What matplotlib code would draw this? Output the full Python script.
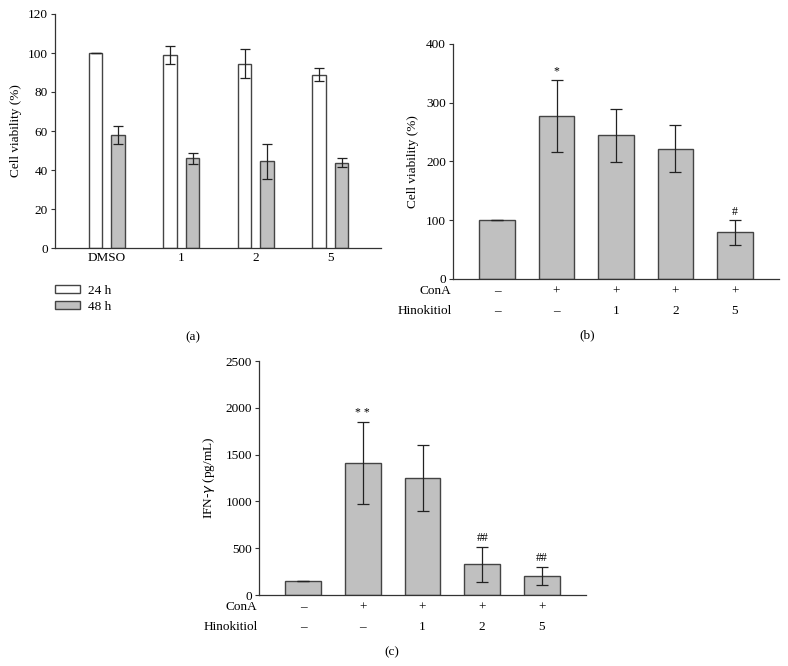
import numpy as np
import matplotlib
matplotlib.use('Agg')
import matplotlib.pyplot as plt
from matplotlib.patches import Patch

plt.rcParams['font.family'] = ['Liberation Serif', 'DejaVu Serif']
FS = 9.5
plt.rcParams['font.size'] = FS

# (a) cell viability, 24 h / 48 h
a_groups = ['DMSO', '1', '2', '5']
a_24 = [100, 99.2, 94.6, 88.9]
a_24_err = [0, 4.6, 7.3, 3.2]
a_48 = [57.9, 45.9, 44.4, 43.8]
a_48_err = [4.7, 2.9, 9.0, 2.4]

# (b) cell viability with ConA
b_vals = [100, 277.5, 244.5, 221.8, 79.5]
b_err = [0, 61, 45.5, 39.6, 20.8]
b_marks = ['', '*', '', '', '#']

# (c) IFN-gamma
c_vals = [149, 1411, 1248, 331, 206]
c_err = [0, 437, 350, 187, 97]
c_marks = ['', '* *', '', '##', '##']

cona = ['–', '+', '+', '+', '+']
hino = ['–', '–', '1', '2', '5']

W, H = 788, 666
fig = plt.figure(figsize=(W / 100, H / 100), dpi=100)

bar_fc = '#c0c0c0'
edge = '#444444'
axcol = '#333333'


def ax_at(l, t, r, b):
    return fig.add_axes([l / W, 1 - b / H, (r - l) / W, (b - t) / H])


def style(ax):
    for s in ['top', 'right']:
        ax.spines[s].set_visible(False)
    for s in ['left', 'bottom']:
        ax.spines[s].set_color(axcol)
        ax.spines[s].set_linewidth(0.9)
    ax.tick_params(axis='y', direction='out', length=3, width=0.8, color=axcol, pad=2, labelsize=FS)
    ax.tick_params(axis='x', length=0, labelsize=FS)


# ---- (a)
ax1 = ax_at(55, 14, 381, 248)
x = np.arange(len(a_groups))
off = 0.151
w = 0.18
ax1.bar(x - off, a_24, w, color='white', edgecolor=edge, linewidth=1.0,
        yerr=a_24_err, error_kw=dict(ecolor='#222222', elinewidth=0.9, capsize=3.5, capthick=0.9))
ax1.bar(x + off, a_48, w, color=bar_fc, edgecolor=edge, linewidth=1.0,
        yerr=a_48_err, error_kw=dict(ecolor='#222222', elinewidth=0.9, capsize=3.5, capthick=0.9))
ax1.set_xlim(-0.695, 3.68)
ax1.set_ylim(0, 120)
ax1.set_yticks(range(0, 121, 20))
ax1.set_xticks(x)
ax1.set_xticklabels(a_groups)
ax1.tick_params(axis='x', pad=3)
style(ax1)
ax1.set_ylabel('Cell viability (%)', fontsize=FS)
ax1.yaxis.set_label_coords(-0.102, 0.5)

handles = [Patch(facecolor='white', edgecolor=edge, linewidth=1.0, label='24 h'),
           Patch(facecolor=bar_fc, edgecolor=edge, linewidth=1.0, label='48 h')]
fig.legend(handles=handles, loc='upper left', bbox_to_anchor=(55 / W, 1 - 285 / H),
           bbox_transform=fig.transFigure, frameon=False, fontsize=FS,
           handlelength=1.9, handleheight=0.55, handletextpad=0.6,
           labelspacing=0.3, borderpad=0, borderaxespad=0)


def treat_panel(ax, vals, errs, marks, ymax, step, mark_pad):
    xs = np.arange(len(vals))
    ax.bar(xs, vals, 0.6, color=bar_fc, edgecolor=edge, linewidth=1.0,
           yerr=errs, error_kw=dict(ecolor='#222222', elinewidth=0.9, capsize=4, capthick=0.9))
    for xi, v, e, m in zip(xs, vals, errs, marks):
        if m:
            ax.text(xi, v + e + mark_pad, m, ha='center', va='bottom', fontsize=FS - 1)
    ax.set_xlim(-0.74, 4.74)
    ax.set_ylim(0, ymax)
    ax.set_yticks(np.arange(0, ymax + 1, step))
    ax.set_xticks([])
    style(ax)
    for xi, c, h in zip(xs, cona, hino):
        ax.annotate(c, xy=(xi, 0), xycoords=('data', 'axes fraction'),
                    xytext=(0, -9), textcoords='offset points', ha='center', va='center', fontsize=FS)
        ax.annotate(h, xy=(xi, 0), xycoords=('data', 'axes fraction'),
                    xytext=(0, -23), textcoords='offset points', ha='center', va='center', fontsize=FS)
    ax.annotate('ConA', xy=(0, 0), xycoords='axes fraction', xytext=(-1, -9),
                textcoords='offset points', ha='right', va='center', fontsize=FS)
    ax.annotate('Hinokitiol', xy=(0, 0), xycoords='axes fraction', xytext=(-1, -23),
                textcoords='offset points', ha='right', va='center', fontsize=FS)


# ---- (b)
ax2 = ax_at(453, 44, 779, 279)
treat_panel(ax2, b_vals, b_err, b_marks, 400, 100, 4)
ax2.set_ylabel('Cell viability (%)', fontsize=FS)
ax2.yaxis.set_label_coords(-0.103, 0.5)

# ---- (c)
ax3 = ax_at(259, 361, 586, 595)
treat_panel(ax3, c_vals, c_err, c_marks, 2500, 500, 30)
ax3.set_ylabel('IFN-$\\gamma$ (pg/mL)', fontsize=FS)
ax3.yaxis.set_label_coords(-0.127, 0.5)

fig.text(193 / W, 1 - 337 / H, '(a)', ha='center', va='center', fontsize=FS)
fig.text(587 / W, 1 - 335 / H, '(b)', ha='center', va='center', fontsize=FS)
fig.text(392 / W, 1 - 652 / H, '(c)', ha='center', va='center', fontsize=FS)

fig.savefig('out.png', dpi=100)
